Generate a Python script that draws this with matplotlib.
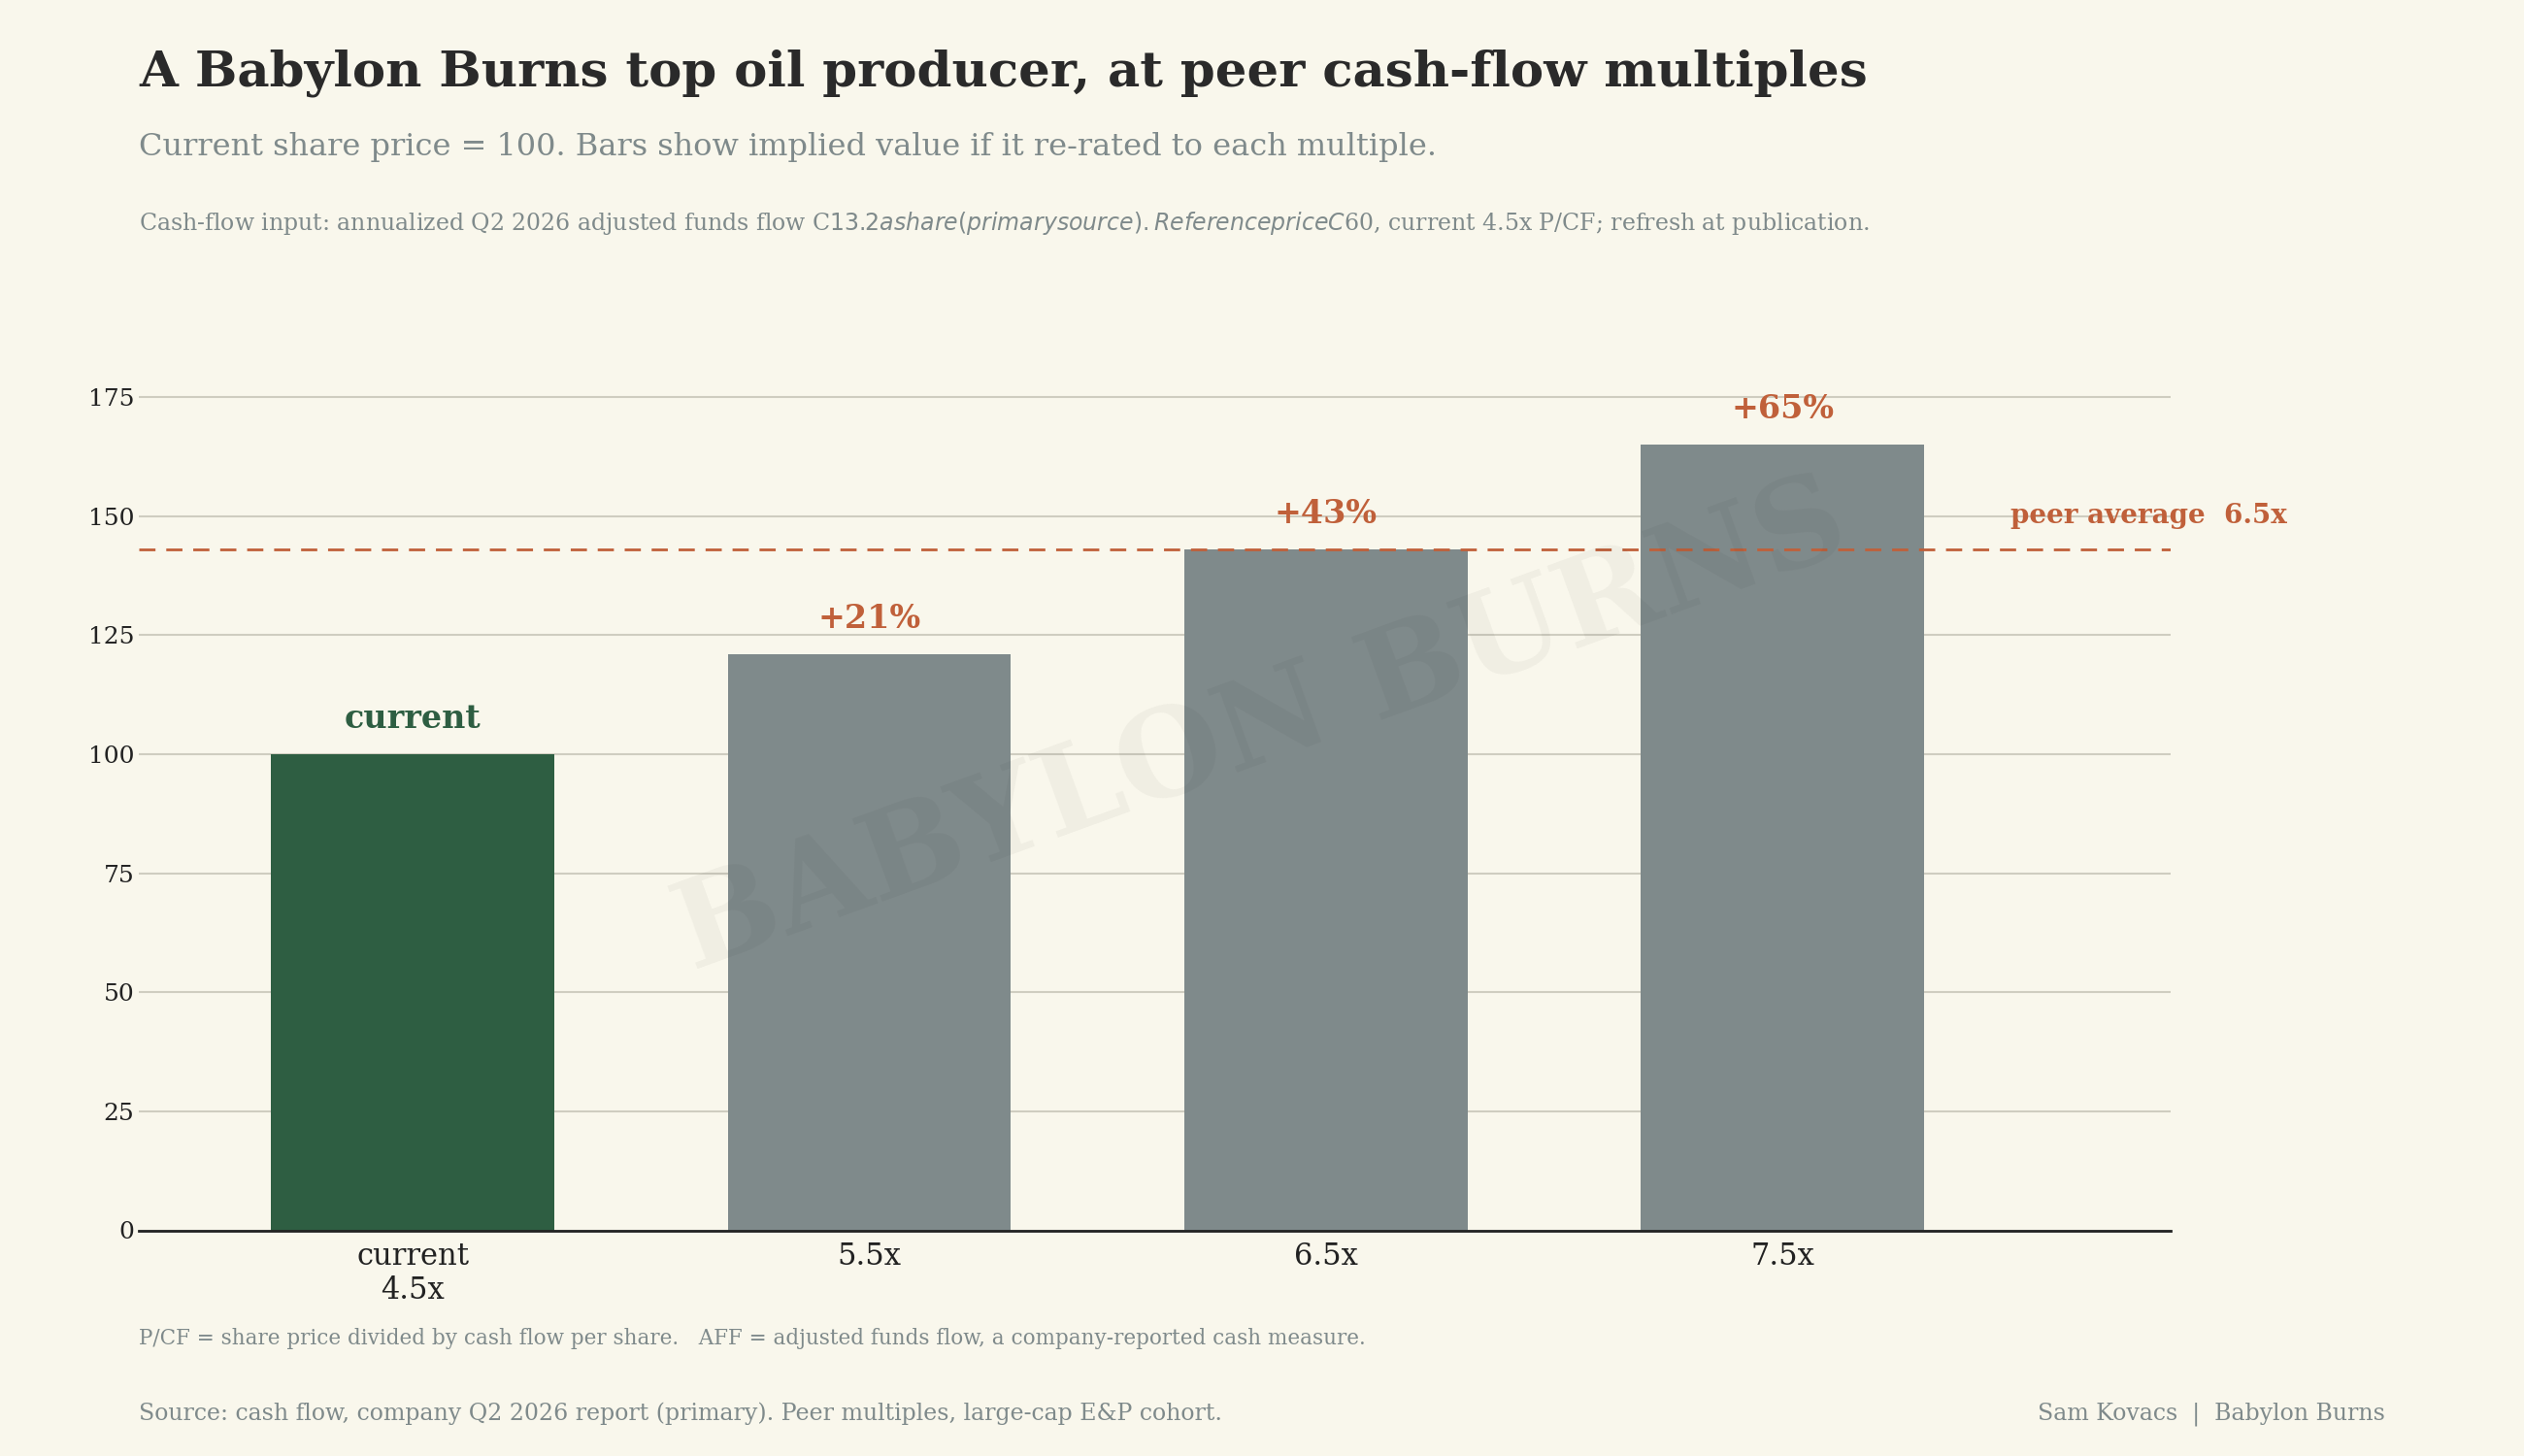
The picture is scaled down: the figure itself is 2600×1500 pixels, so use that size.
import matplotlib.pyplot as plt

categories = ["current\n4.5x", "5.5x", "6.5x", "7.5x"]
values = [100, 121, 143, 165]
labels = ["current", "+21%", "+43%", "+65%"]
peer_avg = 143

BG = "#f9f7ec"
GREEN = "#2e5e42"
GREY = "#7f8a8b"
ORANGE = "#c0603a"
MUTED = "#7f8a8b"

plt.rcParams["font.family"] = ["DejaVu Serif"]
fig = plt.figure(figsize=(26, 15), dpi=100, facecolor=BG)
ax = fig.add_axes([0.055, 0.155, 0.805, 0.605], facecolor=BG)

colors = [GREEN] + [GREY] * 3
x = range(len(values))
ax.bar(x, values, width=0.62, color=colors, zorder=2)
for i, (v, lab) in enumerate(zip(values, labels)):
    ax.text(i, v + 4, lab, ha="center", va="bottom", fontsize=24, fontweight="bold",
            color=GREEN if i == 0 else ORANGE)

ax.axhline(peer_avg, color=ORANGE, ls=(0, (6, 4)), lw=2, zorder=3)
ax.text(3.5, 150, "peer average  6.5x", ha="left", va="center", fontsize=20,
        fontweight="bold", color=ORANGE)

ax.set_xlim(-0.6, 3.85)
ax.set_ylim(0, 185)
ax.set_yticks(range(0, 176, 25))
ax.set_xticks(list(x))
ax.set_xticklabels(categories, fontsize=22, color="#222222")
ax.tick_params(axis="y", labelsize=18, colors="#222222", length=0)
ax.tick_params(axis="x", length=0, pad=8)
ax.grid(axis="y", color="#cfcdc0", lw=1.5, zorder=0)
for s in ["top", "right", "left"]:
    ax.spines[s].set_visible(False)
ax.spines["bottom"].set_color("#222222")
ax.spines["bottom"].set_linewidth(2)

fig.text(0.5, 0.5, "BABYLON BURNS", fontsize=90, fontweight="bold", color="#000000",
         alpha=0.04, rotation=20, ha="center", va="center")

fig.text(0.055, 0.95, "A Babylon Burns top oil producer, at peer cash-flow multiples",
         fontsize=37, fontweight="bold", color="#2a2a2a", va="center")
fig.text(0.055, 0.899, "Current share price = 100. Bars show implied value if it re-rated to each multiple.",
         fontsize=23, color=MUTED, va="center")
fig.text(0.055, 0.847, "Cash-flow input: annualized Q2 2026 adjusted funds flow C$13.2 a share (primary source). "
         "Reference price C$60, current 4.5x P/CF; refresh at publication.",
         fontsize=17, color=MUTED, va="center")
fig.text(0.055, 0.081, "P/CF = share price divided by cash flow per share.   "
         "AFF = adjusted funds flow, a company-reported cash measure.",
         fontsize=15.5, color=MUTED, va="center")
fig.text(0.055, 0.029, "Source: cash flow, company Q2 2026 report (primary). Peer multiples, large-cap E&P cohort.",
         fontsize=17, color=MUTED, va="center")
fig.text(0.945, 0.029, "Sam Kovacs  |  Babylon Burns", fontsize=17, color=MUTED,
         va="center", ha="right")

fig.savefig("out.png", dpi=100, facecolor=BG)
